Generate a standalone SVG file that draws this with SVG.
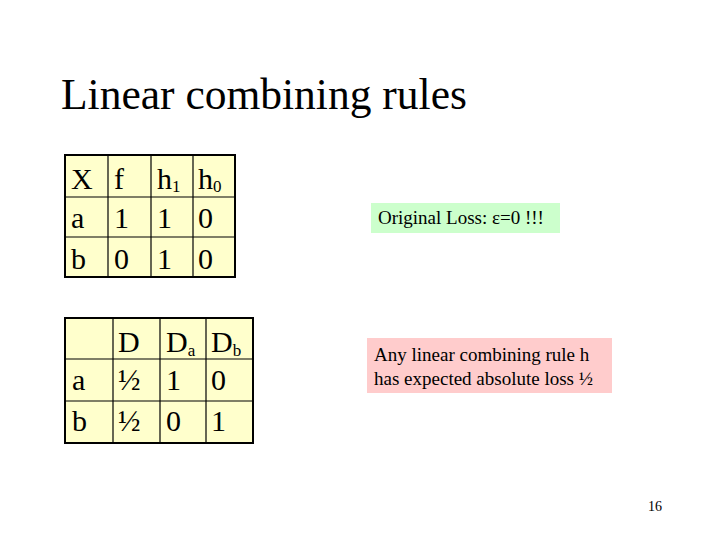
<svg xmlns="http://www.w3.org/2000/svg" width="720" height="540" viewBox="0 0 720 540" font-family="'Liberation Serif', 'DejaVu Serif', serif">
<style>
text{font-family:"Liberation Serif","DejaVu Serif",serif;fill:#000}
.t{font-size:30px}
.b{font-weight:bold}
.g{fill:#FFFFCC;stroke:#000;stroke-width:2}
.l{stroke:#000;stroke-width:1.2}
.s{font-size:19px}
</style>
<rect width="720" height="540" fill="#fff"/>
<text x="61" y="109" font-size="43.5">Linear combining rules</text>
<g id="table1">
<rect class="g" x="65" y="155" width="170" height="122"/>
<line class="l" x1="108" y1="155" x2="108" y2="277"/>
<line class="l" x1="151" y1="155" x2="151" y2="277"/>
<line class="l" x1="193" y1="155" x2="193" y2="277"/>
<line class="l" x1="65" y1="197" x2="235" y2="197"/>
<line class="l" x1="65" y1="237" x2="235" y2="237"/>
<g class="t">
<text x="71" y="189">X</text><text x="114" y="189">f</text><text x="157" y="189">h<tspan font-size="17" dy="3">1</tspan></text><text x="198" y="189">h<tspan font-size="17" dy="3">0</tspan></text>
<text x="71" y="228">a</text><text x="114" y="228">1</text><text x="157" y="228">1</text><text x="198" y="228">0</text>
<text x="71" y="269">b</text><text x="114" y="269">0</text><text x="157" y="269">1</text><text x="198" y="269">0</text>
</g>
</g>
<g id="table2">
<rect class="g" x="65" y="318" width="188" height="125"/>
<line class="l" x1="113" y1="318" x2="113" y2="443"/>
<line class="l" x1="160" y1="318" x2="160" y2="443"/>
<line class="l" x1="206" y1="318" x2="206" y2="443"/>
<line class="l" x1="65" y1="359" x2="253" y2="359"/>
<line class="l" x1="65" y1="401" x2="253" y2="401"/>
<g class="t">
<text x="118" y="352">D</text><text x="166" y="352">D<tspan font-size="17" dy="4">a</tspan></text><text x="211" y="352">D<tspan font-size="17" dy="4">b</tspan></text>
<text x="72" y="390">a</text><text x="118" y="390">½</text><text x="166" y="390">1</text><text x="211" y="390">0</text>
<text x="72" y="431">b</text><text x="118" y="431">½</text><text x="166" y="431">0</text><text x="211" y="431">1</text>
</g>
</g>
<g id="note1">
<rect x="371" y="203" width="189" height="30" fill="#CCFFCC"/>
<text class="s" x="378" y="224">Original Loss: ε=0 !!!</text>
</g>
<g id="note2">
<rect x="367" y="338" width="245" height="55" fill="#FFCCCC"/>
<text class="s" x="374" y="361">Any linear combining rule h</text>
<text class="s" x="374" y="385">has expected absolute loss ½</text>
</g>
<text x="648" y="511" font-size="14">16</text>
</svg>
